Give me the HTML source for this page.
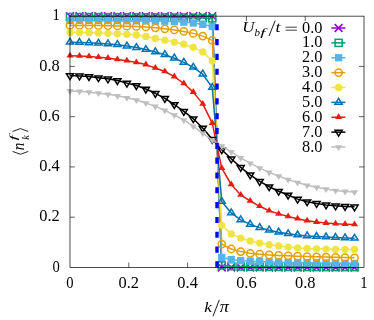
<!DOCTYPE html>
<html><head><meta charset="utf-8"><title>plot</title>
<style>
html,body{margin:0;padding:0;background:#fff;}
body{width:374px;height:320px;overflow:hidden;}
svg{display:block;}
text{font-family:"Liberation Serif",serif;fill:#000;}
svg{will-change:transform;}
.it{font-style:italic;}
</style></head><body>
<svg width="374" height="320" viewBox="0 0 374 320">
<rect width="374" height="320" fill="#fff"/>

<g stroke="#000" stroke-width="0.62" fill="none">
<path d="M128.80 267.45v-4.9M128.80 16.15v4.9M70.0 217.19h4.9M364.0 217.19h-4.9"/>
<path d="M187.60 267.45v-4.9M187.60 16.15v4.9M70.0 166.93h4.9M364.0 166.93h-4.9"/>
<path d="M246.40 267.45v-4.9M246.40 16.15v4.9M70.0 116.67h4.9M364.0 116.67h-4.9"/>
<path d="M305.20 267.45v-4.9M305.20 16.15v4.9M70.0 66.41h4.9M364.0 66.41h-4.9"/>
</g>
<text x="70.00" y="287.9" font-size="15.8" text-anchor="middle" textLength="7.3" lengthAdjust="spacingAndGlyphs">0</text>
<text x="59.8" y="271.65" font-size="15.8" text-anchor="end" textLength="7.3" lengthAdjust="spacingAndGlyphs">0</text>
<text x="128.80" y="287.9" font-size="15.8" text-anchor="middle" textLength="20.5" lengthAdjust="spacingAndGlyphs">0.2</text>
<text x="59.8" y="221.39" font-size="15.8" text-anchor="end" textLength="20.5" lengthAdjust="spacingAndGlyphs">0.2</text>
<text x="187.60" y="287.9" font-size="15.8" text-anchor="middle" textLength="20.5" lengthAdjust="spacingAndGlyphs">0.4</text>
<text x="59.8" y="171.13" font-size="15.8" text-anchor="end" textLength="20.5" lengthAdjust="spacingAndGlyphs">0.4</text>
<text x="246.40" y="287.9" font-size="15.8" text-anchor="middle" textLength="20.5" lengthAdjust="spacingAndGlyphs">0.6</text>
<text x="59.8" y="120.87" font-size="15.8" text-anchor="end" textLength="20.5" lengthAdjust="spacingAndGlyphs">0.6</text>
<text x="305.20" y="287.9" font-size="15.8" text-anchor="middle" textLength="20.5" lengthAdjust="spacingAndGlyphs">0.8</text>
<text x="59.8" y="70.61" font-size="15.8" text-anchor="end" textLength="20.5" lengthAdjust="spacingAndGlyphs">0.8</text>
<text x="364.00" y="287.9" font-size="15.8" text-anchor="middle" textLength="7.3" lengthAdjust="spacingAndGlyphs">1</text>
<text x="59.8" y="20.35" font-size="15.8" text-anchor="end" textLength="7.3" lengthAdjust="spacingAndGlyphs">1</text>
<text x="204.2" y="311.7" font-size="15.2" class="it" textLength="7.6" lengthAdjust="spacingAndGlyphs">k</text>
<path d="M213 316.3L219.3 299.8" stroke="#000" stroke-width="0.9"/>
<text x="219.8" y="311.7" font-size="16.2" class="it" textLength="9.2" lengthAdjust="spacingAndGlyphs">π</text>
<g transform="translate(24,150) rotate(-90)">
<path d="M-1.4 -11.5L-4.3 -3.6L-1.4 4.3M18.5 -11.5L21.4 -3.6L18.5 4.3" stroke="#000" stroke-width="0.85" fill="none"/>
<text x="-0.2" y="0" font-size="15.8" class="it" textLength="7.6" lengthAdjust="spacingAndGlyphs">n</text>
<text x="10.2" y="4.6" font-size="10.4" class="it">k</text>
<text x="9.4" y="-6.8" font-size="11" class="it" textLength="5.2" lengthAdjust="spacingAndGlyphs">f</text>
</g>
<polyline points="70.00,16.15 79.48,16.15 88.97,16.15 98.45,16.15 107.94,16.15 117.42,16.15 126.90,16.15 136.39,16.15 145.87,16.15 155.35,16.15 164.84,16.15 174.32,16.15 183.81,16.15 193.29,16.15 202.77,16.15 212.26,16.15 221.74,267.45 231.23,267.45 240.71,267.45 250.19,267.45 259.68,267.45 269.16,267.45 278.65,267.45 288.13,267.45 297.61,267.45 307.10,267.45 316.58,267.45 326.06,267.45 335.55,267.45 345.03,267.45 354.52,267.45" stroke="#9400d3" stroke-width="1.5" fill="none" stroke-linejoin="round"/>
<path d="M66.10 12.25L73.90 20.05M66.10 20.05L73.90 12.25" stroke="#9400d3" stroke-width="1.5" fill="none"/>
<path d="M75.58 12.25L83.38 20.05M75.58 20.05L83.38 12.25" stroke="#9400d3" stroke-width="1.5" fill="none"/>
<path d="M85.07 12.25L92.87 20.05M85.07 20.05L92.87 12.25" stroke="#9400d3" stroke-width="1.5" fill="none"/>
<path d="M94.55 12.25L102.35 20.05M94.55 20.05L102.35 12.25" stroke="#9400d3" stroke-width="1.5" fill="none"/>
<path d="M104.04 12.25L111.84 20.05M104.04 20.05L111.84 12.25" stroke="#9400d3" stroke-width="1.5" fill="none"/>
<path d="M113.52 12.25L121.32 20.05M113.52 20.05L121.32 12.25" stroke="#9400d3" stroke-width="1.5" fill="none"/>
<path d="M123.00 12.25L130.80 20.05M123.00 20.05L130.80 12.25" stroke="#9400d3" stroke-width="1.5" fill="none"/>
<path d="M132.49 12.25L140.29 20.05M132.49 20.05L140.29 12.25" stroke="#9400d3" stroke-width="1.5" fill="none"/>
<path d="M141.97 12.25L149.77 20.05M141.97 20.05L149.77 12.25" stroke="#9400d3" stroke-width="1.5" fill="none"/>
<path d="M151.45 12.25L159.25 20.05M151.45 20.05L159.25 12.25" stroke="#9400d3" stroke-width="1.5" fill="none"/>
<path d="M160.94 12.25L168.74 20.05M160.94 20.05L168.74 12.25" stroke="#9400d3" stroke-width="1.5" fill="none"/>
<path d="M170.42 12.25L178.22 20.05M170.42 20.05L178.22 12.25" stroke="#9400d3" stroke-width="1.5" fill="none"/>
<path d="M179.91 12.25L187.71 20.05M179.91 20.05L187.71 12.25" stroke="#9400d3" stroke-width="1.5" fill="none"/>
<path d="M189.39 12.25L197.19 20.05M189.39 20.05L197.19 12.25" stroke="#9400d3" stroke-width="1.5" fill="none"/>
<path d="M198.87 12.25L206.67 20.05M198.87 20.05L206.67 12.25" stroke="#9400d3" stroke-width="1.5" fill="none"/>
<path d="M208.36 12.25L216.16 20.05M208.36 20.05L216.16 12.25" stroke="#9400d3" stroke-width="1.5" fill="none"/>
<path d="M217.84 263.55L225.64 271.35M217.84 271.35L225.64 263.55" stroke="#9400d3" stroke-width="1.5" fill="none"/>
<path d="M227.33 263.55L235.13 271.35M227.33 271.35L235.13 263.55" stroke="#9400d3" stroke-width="1.5" fill="none"/>
<path d="M236.81 263.55L244.61 271.35M236.81 271.35L244.61 263.55" stroke="#9400d3" stroke-width="1.5" fill="none"/>
<path d="M246.29 263.55L254.09 271.35M246.29 271.35L254.09 263.55" stroke="#9400d3" stroke-width="1.5" fill="none"/>
<path d="M255.78 263.55L263.58 271.35M255.78 271.35L263.58 263.55" stroke="#9400d3" stroke-width="1.5" fill="none"/>
<path d="M265.26 263.55L273.06 271.35M265.26 271.35L273.06 263.55" stroke="#9400d3" stroke-width="1.5" fill="none"/>
<path d="M274.75 263.55L282.55 271.35M274.75 271.35L282.55 263.55" stroke="#9400d3" stroke-width="1.5" fill="none"/>
<path d="M284.23 263.55L292.03 271.35M284.23 271.35L292.03 263.55" stroke="#9400d3" stroke-width="1.5" fill="none"/>
<path d="M293.71 263.55L301.51 271.35M293.71 271.35L301.51 263.55" stroke="#9400d3" stroke-width="1.5" fill="none"/>
<path d="M303.20 263.55L311.00 271.35M303.20 271.35L311.00 263.55" stroke="#9400d3" stroke-width="1.5" fill="none"/>
<path d="M312.68 263.55L320.48 271.35M312.68 271.35L320.48 263.55" stroke="#9400d3" stroke-width="1.5" fill="none"/>
<path d="M322.16 263.55L329.96 271.35M322.16 271.35L329.96 263.55" stroke="#9400d3" stroke-width="1.5" fill="none"/>
<path d="M331.65 263.55L339.45 271.35M331.65 271.35L339.45 263.55" stroke="#9400d3" stroke-width="1.5" fill="none"/>
<path d="M341.13 263.55L348.93 271.35M341.13 271.35L348.93 263.55" stroke="#9400d3" stroke-width="1.5" fill="none"/>
<path d="M350.62 263.55L358.42 271.35M350.62 271.35L358.42 263.55" stroke="#9400d3" stroke-width="1.5" fill="none"/>
<path d="M331.3 28.00H345.4" stroke="#9400d3" stroke-width="1.5"/>
<path d="M334.70 24.10L342.50 31.90M334.70 31.90L342.50 24.10" stroke="#9400d3" stroke-width="1.5" fill="none"/>
<text x="322.4" y="32.50" font-size="15.8" text-anchor="end" textLength="20.4" lengthAdjust="spacingAndGlyphs">0.0</text>
<polyline points="70.00,17.00 79.48,17.04 88.97,17.07 98.45,17.11 107.94,17.15 117.42,17.19 126.90,17.22 136.39,17.26 145.87,17.30 155.35,17.36 164.84,17.42 174.32,17.50 183.81,17.59 193.29,17.70 202.77,17.90 212.26,18.40 221.74,265.40 231.23,266.20 240.71,266.50 250.19,266.70 259.68,266.80 269.16,266.86 278.65,266.91 288.13,266.95 297.61,266.99 307.10,267.03 316.58,267.05 326.06,267.07 335.55,267.09 345.03,267.10 354.52,267.10" stroke="#009e73" stroke-width="1.5" fill="none" stroke-linejoin="round"/>
<rect x="66.45" y="13.45" width="7.1" height="7.1" stroke="#009e73" stroke-width="1.5" fill="none"/>
<rect x="75.93" y="13.49" width="7.1" height="7.1" stroke="#009e73" stroke-width="1.5" fill="none"/>
<rect x="85.42" y="13.52" width="7.1" height="7.1" stroke="#009e73" stroke-width="1.5" fill="none"/>
<rect x="94.90" y="13.56" width="7.1" height="7.1" stroke="#009e73" stroke-width="1.5" fill="none"/>
<rect x="104.39" y="13.60" width="7.1" height="7.1" stroke="#009e73" stroke-width="1.5" fill="none"/>
<rect x="113.87" y="13.64" width="7.1" height="7.1" stroke="#009e73" stroke-width="1.5" fill="none"/>
<rect x="123.35" y="13.67" width="7.1" height="7.1" stroke="#009e73" stroke-width="1.5" fill="none"/>
<rect x="132.84" y="13.71" width="7.1" height="7.1" stroke="#009e73" stroke-width="1.5" fill="none"/>
<rect x="142.32" y="13.75" width="7.1" height="7.1" stroke="#009e73" stroke-width="1.5" fill="none"/>
<rect x="151.80" y="13.81" width="7.1" height="7.1" stroke="#009e73" stroke-width="1.5" fill="none"/>
<rect x="161.29" y="13.87" width="7.1" height="7.1" stroke="#009e73" stroke-width="1.5" fill="none"/>
<rect x="170.77" y="13.95" width="7.1" height="7.1" stroke="#009e73" stroke-width="1.5" fill="none"/>
<rect x="180.26" y="14.04" width="7.1" height="7.1" stroke="#009e73" stroke-width="1.5" fill="none"/>
<rect x="189.74" y="14.15" width="7.1" height="7.1" stroke="#009e73" stroke-width="1.5" fill="none"/>
<rect x="199.22" y="14.35" width="7.1" height="7.1" stroke="#009e73" stroke-width="1.5" fill="none"/>
<rect x="208.71" y="14.85" width="7.1" height="7.1" stroke="#009e73" stroke-width="1.5" fill="none"/>
<rect x="218.19" y="261.85" width="7.1" height="7.1" stroke="#009e73" stroke-width="1.5" fill="none"/>
<rect x="227.68" y="262.65" width="7.1" height="7.1" stroke="#009e73" stroke-width="1.5" fill="none"/>
<rect x="237.16" y="262.95" width="7.1" height="7.1" stroke="#009e73" stroke-width="1.5" fill="none"/>
<rect x="246.64" y="263.15" width="7.1" height="7.1" stroke="#009e73" stroke-width="1.5" fill="none"/>
<rect x="256.13" y="263.25" width="7.1" height="7.1" stroke="#009e73" stroke-width="1.5" fill="none"/>
<rect x="265.61" y="263.31" width="7.1" height="7.1" stroke="#009e73" stroke-width="1.5" fill="none"/>
<rect x="275.10" y="263.36" width="7.1" height="7.1" stroke="#009e73" stroke-width="1.5" fill="none"/>
<rect x="284.58" y="263.40" width="7.1" height="7.1" stroke="#009e73" stroke-width="1.5" fill="none"/>
<rect x="294.06" y="263.44" width="7.1" height="7.1" stroke="#009e73" stroke-width="1.5" fill="none"/>
<rect x="303.55" y="263.48" width="7.1" height="7.1" stroke="#009e73" stroke-width="1.5" fill="none"/>
<rect x="313.03" y="263.50" width="7.1" height="7.1" stroke="#009e73" stroke-width="1.5" fill="none"/>
<rect x="322.51" y="263.52" width="7.1" height="7.1" stroke="#009e73" stroke-width="1.5" fill="none"/>
<rect x="332.00" y="263.54" width="7.1" height="7.1" stroke="#009e73" stroke-width="1.5" fill="none"/>
<rect x="341.48" y="263.55" width="7.1" height="7.1" stroke="#009e73" stroke-width="1.5" fill="none"/>
<rect x="350.97" y="263.55" width="7.1" height="7.1" stroke="#009e73" stroke-width="1.5" fill="none"/>
<path d="M331.3 42.88H345.4" stroke="#009e73" stroke-width="1.5"/>
<rect x="335.05" y="39.33" width="7.1" height="7.1" stroke="#009e73" stroke-width="1.5" fill="none"/>
<text x="322.4" y="47.38" font-size="15.8" text-anchor="end" textLength="20.4" lengthAdjust="spacingAndGlyphs">1.0</text>
<polyline points="70.00,20.50 79.48,20.51 88.97,20.53 98.45,20.56 107.94,20.61 117.42,20.65 126.90,20.71 136.39,20.78 145.87,20.88 155.35,21.00 164.84,21.20 174.32,21.60 183.81,22.10 193.29,23.00 202.77,24.40 212.26,26.50 221.74,257.50 231.23,259.60 240.71,260.70 250.19,261.20 259.68,261.60 269.16,261.90 278.65,262.17 288.13,262.40 297.61,262.58 307.10,262.75 316.58,262.90 326.06,263.06 335.55,263.21 345.03,263.36 354.52,263.50" stroke="#56b4e9" stroke-width="1.5" fill="none" stroke-linejoin="round"/>
<rect x="66.35" y="16.85" width="7.3" height="7.3" fill="#56b4e9"/>
<rect x="75.83" y="16.86" width="7.3" height="7.3" fill="#56b4e9"/>
<rect x="85.32" y="16.88" width="7.3" height="7.3" fill="#56b4e9"/>
<rect x="94.80" y="16.91" width="7.3" height="7.3" fill="#56b4e9"/>
<rect x="104.29" y="16.96" width="7.3" height="7.3" fill="#56b4e9"/>
<rect x="113.77" y="17.00" width="7.3" height="7.3" fill="#56b4e9"/>
<rect x="123.25" y="17.06" width="7.3" height="7.3" fill="#56b4e9"/>
<rect x="132.74" y="17.13" width="7.3" height="7.3" fill="#56b4e9"/>
<rect x="142.22" y="17.23" width="7.3" height="7.3" fill="#56b4e9"/>
<rect x="151.70" y="17.35" width="7.3" height="7.3" fill="#56b4e9"/>
<rect x="161.19" y="17.55" width="7.3" height="7.3" fill="#56b4e9"/>
<rect x="170.67" y="17.95" width="7.3" height="7.3" fill="#56b4e9"/>
<rect x="180.16" y="18.45" width="7.3" height="7.3" fill="#56b4e9"/>
<rect x="189.64" y="19.35" width="7.3" height="7.3" fill="#56b4e9"/>
<rect x="199.12" y="20.75" width="7.3" height="7.3" fill="#56b4e9"/>
<rect x="208.61" y="22.85" width="7.3" height="7.3" fill="#56b4e9"/>
<rect x="218.09" y="253.85" width="7.3" height="7.3" fill="#56b4e9"/>
<rect x="227.58" y="255.95" width="7.3" height="7.3" fill="#56b4e9"/>
<rect x="237.06" y="257.05" width="7.3" height="7.3" fill="#56b4e9"/>
<rect x="246.54" y="257.55" width="7.3" height="7.3" fill="#56b4e9"/>
<rect x="256.03" y="257.95" width="7.3" height="7.3" fill="#56b4e9"/>
<rect x="265.51" y="258.25" width="7.3" height="7.3" fill="#56b4e9"/>
<rect x="275.00" y="258.52" width="7.3" height="7.3" fill="#56b4e9"/>
<rect x="284.48" y="258.75" width="7.3" height="7.3" fill="#56b4e9"/>
<rect x="293.96" y="258.93" width="7.3" height="7.3" fill="#56b4e9"/>
<rect x="303.45" y="259.10" width="7.3" height="7.3" fill="#56b4e9"/>
<rect x="312.93" y="259.25" width="7.3" height="7.3" fill="#56b4e9"/>
<rect x="322.41" y="259.41" width="7.3" height="7.3" fill="#56b4e9"/>
<rect x="331.90" y="259.56" width="7.3" height="7.3" fill="#56b4e9"/>
<rect x="341.38" y="259.71" width="7.3" height="7.3" fill="#56b4e9"/>
<rect x="350.87" y="259.85" width="7.3" height="7.3" fill="#56b4e9"/>
<path d="M331.3 57.75H345.4" stroke="#56b4e9" stroke-width="1.5"/>
<rect x="334.95" y="54.10" width="7.3" height="7.3" fill="#56b4e9"/>
<text x="322.4" y="62.25" font-size="15.8" text-anchor="end" textLength="20.4" lengthAdjust="spacingAndGlyphs">2.0</text>
<polyline points="70.00,25.40 79.48,25.42 88.97,25.49 98.45,25.60 107.94,25.74 117.42,25.93 126.90,26.15 136.39,26.40 145.87,26.92 155.35,27.79 164.84,28.80 174.32,29.93 183.81,31.40 193.29,33.38 202.77,36.10 212.26,40.40 221.74,244.10 231.23,249.00 240.71,251.60 250.19,253.30 259.68,254.20 269.16,254.90 278.65,255.40 288.13,255.80 297.61,256.20 307.10,256.53 316.58,256.83 326.06,257.10 335.55,257.35 345.03,257.59 354.52,257.80" stroke="#e69f00" stroke-width="1.5" fill="none" stroke-linejoin="round"/>
<circle cx="70.00" cy="25.40" r="3.65" stroke="#e69f00" stroke-width="1.5" fill="none"/>
<circle cx="79.48" cy="25.42" r="3.65" stroke="#e69f00" stroke-width="1.5" fill="none"/>
<circle cx="88.97" cy="25.49" r="3.65" stroke="#e69f00" stroke-width="1.5" fill="none"/>
<circle cx="98.45" cy="25.60" r="3.65" stroke="#e69f00" stroke-width="1.5" fill="none"/>
<circle cx="107.94" cy="25.74" r="3.65" stroke="#e69f00" stroke-width="1.5" fill="none"/>
<circle cx="117.42" cy="25.93" r="3.65" stroke="#e69f00" stroke-width="1.5" fill="none"/>
<circle cx="126.90" cy="26.15" r="3.65" stroke="#e69f00" stroke-width="1.5" fill="none"/>
<circle cx="136.39" cy="26.40" r="3.65" stroke="#e69f00" stroke-width="1.5" fill="none"/>
<circle cx="145.87" cy="26.92" r="3.65" stroke="#e69f00" stroke-width="1.5" fill="none"/>
<circle cx="155.35" cy="27.79" r="3.65" stroke="#e69f00" stroke-width="1.5" fill="none"/>
<circle cx="164.84" cy="28.80" r="3.65" stroke="#e69f00" stroke-width="1.5" fill="none"/>
<circle cx="174.32" cy="29.93" r="3.65" stroke="#e69f00" stroke-width="1.5" fill="none"/>
<circle cx="183.81" cy="31.40" r="3.65" stroke="#e69f00" stroke-width="1.5" fill="none"/>
<circle cx="193.29" cy="33.38" r="3.65" stroke="#e69f00" stroke-width="1.5" fill="none"/>
<circle cx="202.77" cy="36.10" r="3.65" stroke="#e69f00" stroke-width="1.5" fill="none"/>
<circle cx="212.26" cy="40.40" r="3.65" stroke="#e69f00" stroke-width="1.5" fill="none"/>
<circle cx="221.74" cy="244.10" r="3.65" stroke="#e69f00" stroke-width="1.5" fill="none"/>
<circle cx="231.23" cy="249.00" r="3.65" stroke="#e69f00" stroke-width="1.5" fill="none"/>
<circle cx="240.71" cy="251.60" r="3.65" stroke="#e69f00" stroke-width="1.5" fill="none"/>
<circle cx="250.19" cy="253.30" r="3.65" stroke="#e69f00" stroke-width="1.5" fill="none"/>
<circle cx="259.68" cy="254.20" r="3.65" stroke="#e69f00" stroke-width="1.5" fill="none"/>
<circle cx="269.16" cy="254.90" r="3.65" stroke="#e69f00" stroke-width="1.5" fill="none"/>
<circle cx="278.65" cy="255.40" r="3.65" stroke="#e69f00" stroke-width="1.5" fill="none"/>
<circle cx="288.13" cy="255.80" r="3.65" stroke="#e69f00" stroke-width="1.5" fill="none"/>
<circle cx="297.61" cy="256.20" r="3.65" stroke="#e69f00" stroke-width="1.5" fill="none"/>
<circle cx="307.10" cy="256.53" r="3.65" stroke="#e69f00" stroke-width="1.5" fill="none"/>
<circle cx="316.58" cy="256.83" r="3.65" stroke="#e69f00" stroke-width="1.5" fill="none"/>
<circle cx="326.06" cy="257.10" r="3.65" stroke="#e69f00" stroke-width="1.5" fill="none"/>
<circle cx="335.55" cy="257.35" r="3.65" stroke="#e69f00" stroke-width="1.5" fill="none"/>
<circle cx="345.03" cy="257.59" r="3.65" stroke="#e69f00" stroke-width="1.5" fill="none"/>
<circle cx="354.52" cy="257.80" r="3.65" stroke="#e69f00" stroke-width="1.5" fill="none"/>
<path d="M331.3 72.62H345.4" stroke="#e69f00" stroke-width="1.5"/>
<circle cx="338.60" cy="72.62" r="3.65" stroke="#e69f00" stroke-width="1.5" fill="none"/>
<text x="322.4" y="77.12" font-size="15.8" text-anchor="end" textLength="20.4" lengthAdjust="spacingAndGlyphs">3.0</text>
<polyline points="70.00,32.50 79.48,32.56 88.97,32.72 98.45,32.99 107.94,33.36 117.42,33.82 126.90,34.37 136.39,35.00 145.87,36.43 155.35,38.40 164.84,40.20 174.32,42.05 183.81,44.20 193.29,47.30 202.77,51.90 212.26,61.00 221.74,225.30 231.23,233.90 240.71,238.10 250.19,241.00 259.68,243.10 269.16,244.70 278.65,246.00 288.13,247.10 297.61,248.00 307.10,248.49 316.58,248.85 326.06,249.10 335.55,249.29 345.03,249.43 354.52,249.50" stroke="#f0e442" stroke-width="1.5" fill="none" stroke-linejoin="round"/>
<circle cx="70.00" cy="32.50" r="3.65" fill="#f0e442"/>
<circle cx="79.48" cy="32.56" r="3.65" fill="#f0e442"/>
<circle cx="88.97" cy="32.72" r="3.65" fill="#f0e442"/>
<circle cx="98.45" cy="32.99" r="3.65" fill="#f0e442"/>
<circle cx="107.94" cy="33.36" r="3.65" fill="#f0e442"/>
<circle cx="117.42" cy="33.82" r="3.65" fill="#f0e442"/>
<circle cx="126.90" cy="34.37" r="3.65" fill="#f0e442"/>
<circle cx="136.39" cy="35.00" r="3.65" fill="#f0e442"/>
<circle cx="145.87" cy="36.43" r="3.65" fill="#f0e442"/>
<circle cx="155.35" cy="38.40" r="3.65" fill="#f0e442"/>
<circle cx="164.84" cy="40.20" r="3.65" fill="#f0e442"/>
<circle cx="174.32" cy="42.05" r="3.65" fill="#f0e442"/>
<circle cx="183.81" cy="44.20" r="3.65" fill="#f0e442"/>
<circle cx="193.29" cy="47.30" r="3.65" fill="#f0e442"/>
<circle cx="202.77" cy="51.90" r="3.65" fill="#f0e442"/>
<circle cx="212.26" cy="61.00" r="3.65" fill="#f0e442"/>
<circle cx="221.74" cy="225.30" r="3.65" fill="#f0e442"/>
<circle cx="231.23" cy="233.90" r="3.65" fill="#f0e442"/>
<circle cx="240.71" cy="238.10" r="3.65" fill="#f0e442"/>
<circle cx="250.19" cy="241.00" r="3.65" fill="#f0e442"/>
<circle cx="259.68" cy="243.10" r="3.65" fill="#f0e442"/>
<circle cx="269.16" cy="244.70" r="3.65" fill="#f0e442"/>
<circle cx="278.65" cy="246.00" r="3.65" fill="#f0e442"/>
<circle cx="288.13" cy="247.10" r="3.65" fill="#f0e442"/>
<circle cx="297.61" cy="248.00" r="3.65" fill="#f0e442"/>
<circle cx="307.10" cy="248.49" r="3.65" fill="#f0e442"/>
<circle cx="316.58" cy="248.85" r="3.65" fill="#f0e442"/>
<circle cx="326.06" cy="249.10" r="3.65" fill="#f0e442"/>
<circle cx="335.55" cy="249.29" r="3.65" fill="#f0e442"/>
<circle cx="345.03" cy="249.43" r="3.65" fill="#f0e442"/>
<circle cx="354.52" cy="249.50" r="3.65" fill="#f0e442"/>
<path d="M331.3 87.50H345.4" stroke="#f0e442" stroke-width="1.5"/>
<circle cx="338.60" cy="87.50" r="3.65" fill="#f0e442"/>
<text x="322.4" y="92.00" font-size="15.8" text-anchor="end" textLength="20.4" lengthAdjust="spacingAndGlyphs">4.0</text>
<polyline points="70.00,42.30 79.48,42.52 88.97,42.87 98.45,43.30 107.94,43.90 117.42,44.70 126.90,46.10 136.39,47.60 145.87,49.57 155.35,51.93 164.84,54.70 174.32,58.20 183.81,62.40 193.29,67.30 202.77,74.20 212.26,87.50 221.74,201.50 231.23,212.90 240.71,219.90 250.19,224.40 259.68,227.60 269.16,230.20 278.65,232.20 288.13,233.80 297.61,235.00 307.10,235.90 316.58,236.50 326.06,237.00 335.55,237.50 345.03,237.90 354.52,238.30" stroke="#0072b2" stroke-width="1.5" fill="none" stroke-linejoin="round"/>
<path d="M70.00 38.32L73.55 44.07H66.45Z" stroke="#0072b2" stroke-width="1.5" fill="none"/>
<path d="M79.48 38.54L83.03 44.29H75.93Z" stroke="#0072b2" stroke-width="1.5" fill="none"/>
<path d="M88.97 38.89L92.52 44.65H85.42Z" stroke="#0072b2" stroke-width="1.5" fill="none"/>
<path d="M98.45 39.32L102.00 45.07H94.90Z" stroke="#0072b2" stroke-width="1.5" fill="none"/>
<path d="M107.94 39.92L111.49 45.67H104.39Z" stroke="#0072b2" stroke-width="1.5" fill="none"/>
<path d="M117.42 40.72L120.97 46.48H113.87Z" stroke="#0072b2" stroke-width="1.5" fill="none"/>
<path d="M126.90 42.12L130.45 47.88H123.35Z" stroke="#0072b2" stroke-width="1.5" fill="none"/>
<path d="M136.39 43.62L139.94 49.38H132.84Z" stroke="#0072b2" stroke-width="1.5" fill="none"/>
<path d="M145.87 45.59L149.42 51.34H142.32Z" stroke="#0072b2" stroke-width="1.5" fill="none"/>
<path d="M155.35 47.95L158.90 53.70H151.80Z" stroke="#0072b2" stroke-width="1.5" fill="none"/>
<path d="M164.84 50.72L168.39 56.48H161.29Z" stroke="#0072b2" stroke-width="1.5" fill="none"/>
<path d="M174.32 54.23L177.87 59.98H170.77Z" stroke="#0072b2" stroke-width="1.5" fill="none"/>
<path d="M183.81 58.42L187.36 64.17H180.26Z" stroke="#0072b2" stroke-width="1.5" fill="none"/>
<path d="M193.29 63.32L196.84 69.08H189.74Z" stroke="#0072b2" stroke-width="1.5" fill="none"/>
<path d="M202.77 70.22L206.32 75.98H199.22Z" stroke="#0072b2" stroke-width="1.5" fill="none"/>
<path d="M212.26 83.52L215.81 89.28H208.71Z" stroke="#0072b2" stroke-width="1.5" fill="none"/>
<path d="M221.74 197.52L225.29 203.28H218.19Z" stroke="#0072b2" stroke-width="1.5" fill="none"/>
<path d="M231.23 208.92L234.78 214.68H227.68Z" stroke="#0072b2" stroke-width="1.5" fill="none"/>
<path d="M240.71 215.92L244.26 221.68H237.16Z" stroke="#0072b2" stroke-width="1.5" fill="none"/>
<path d="M250.19 220.42L253.74 226.18H246.64Z" stroke="#0072b2" stroke-width="1.5" fill="none"/>
<path d="M259.68 223.62L263.23 229.38H256.13Z" stroke="#0072b2" stroke-width="1.5" fill="none"/>
<path d="M269.16 226.22L272.71 231.97H265.61Z" stroke="#0072b2" stroke-width="1.5" fill="none"/>
<path d="M278.65 228.22L282.20 233.97H275.10Z" stroke="#0072b2" stroke-width="1.5" fill="none"/>
<path d="M288.13 229.82L291.68 235.58H284.58Z" stroke="#0072b2" stroke-width="1.5" fill="none"/>
<path d="M297.61 231.02L301.16 236.78H294.06Z" stroke="#0072b2" stroke-width="1.5" fill="none"/>
<path d="M307.10 231.92L310.65 237.68H303.55Z" stroke="#0072b2" stroke-width="1.5" fill="none"/>
<path d="M316.58 232.52L320.13 238.28H313.03Z" stroke="#0072b2" stroke-width="1.5" fill="none"/>
<path d="M326.06 233.02L329.61 238.78H322.51Z" stroke="#0072b2" stroke-width="1.5" fill="none"/>
<path d="M335.55 233.52L339.10 239.28H332.00Z" stroke="#0072b2" stroke-width="1.5" fill="none"/>
<path d="M345.03 233.92L348.58 239.68H341.48Z" stroke="#0072b2" stroke-width="1.5" fill="none"/>
<path d="M354.52 234.32L358.07 240.08H350.97Z" stroke="#0072b2" stroke-width="1.5" fill="none"/>
<path d="M331.3 102.38H345.4" stroke="#0072b2" stroke-width="1.5"/>
<path d="M338.60 98.40L342.15 104.15H335.05Z" stroke="#0072b2" stroke-width="1.5" fill="none"/>
<text x="322.4" y="106.88" font-size="15.8" text-anchor="end" textLength="20.4" lengthAdjust="spacingAndGlyphs">5.0</text>
<polyline points="70.00,55.80 79.48,56.00 88.97,56.52 98.45,57.25 107.94,58.10 117.42,59.40 126.90,60.85 136.39,62.50 145.87,64.60 155.35,68.00 164.84,71.50 174.32,76.60 183.81,83.50 193.29,92.10 202.77,103.90 212.26,123.10 221.74,168.10 231.23,184.50 240.71,194.90 250.19,201.00 259.68,206.30 269.16,210.80 278.65,213.90 288.13,216.50 297.61,218.70 307.10,220.70 316.58,222.10 326.06,223.10 335.55,223.80 345.03,224.20 354.52,224.40" stroke="#e51e10" stroke-width="1.5" fill="none" stroke-linejoin="round"/>
<path d="M70.00 51.82L73.55 57.57H66.45Z" fill="#e51e10"/>
<path d="M79.48 52.02L83.03 57.77H75.93Z" fill="#e51e10"/>
<path d="M88.97 52.54L92.52 58.29H85.42Z" fill="#e51e10"/>
<path d="M98.45 53.28L102.00 59.03H94.90Z" fill="#e51e10"/>
<path d="M107.94 54.12L111.49 59.88H104.39Z" fill="#e51e10"/>
<path d="M117.42 55.42L120.97 61.17H113.87Z" fill="#e51e10"/>
<path d="M126.90 56.87L130.45 62.62H123.35Z" fill="#e51e10"/>
<path d="M136.39 58.52L139.94 64.28H132.84Z" fill="#e51e10"/>
<path d="M145.87 60.62L149.42 66.38H142.32Z" fill="#e51e10"/>
<path d="M155.35 64.02L158.90 69.78H151.80Z" fill="#e51e10"/>
<path d="M164.84 67.52L168.39 73.28H161.29Z" fill="#e51e10"/>
<path d="M174.32 72.62L177.87 78.38H170.77Z" fill="#e51e10"/>
<path d="M183.81 79.52L187.36 85.28H180.26Z" fill="#e51e10"/>
<path d="M193.29 88.12L196.84 93.88H189.74Z" fill="#e51e10"/>
<path d="M202.77 99.92L206.32 105.68H199.22Z" fill="#e51e10"/>
<path d="M212.26 119.12L215.81 124.88H208.71Z" fill="#e51e10"/>
<path d="M221.74 164.12L225.29 169.88H218.19Z" fill="#e51e10"/>
<path d="M231.23 180.52L234.78 186.28H227.68Z" fill="#e51e10"/>
<path d="M240.71 190.92L244.26 196.68H237.16Z" fill="#e51e10"/>
<path d="M250.19 197.02L253.74 202.78H246.64Z" fill="#e51e10"/>
<path d="M259.68 202.32L263.23 208.08H256.13Z" fill="#e51e10"/>
<path d="M269.16 206.82L272.71 212.58H265.61Z" fill="#e51e10"/>
<path d="M278.65 209.92L282.20 215.68H275.10Z" fill="#e51e10"/>
<path d="M288.13 212.52L291.68 218.28H284.58Z" fill="#e51e10"/>
<path d="M297.61 214.72L301.16 220.47H294.06Z" fill="#e51e10"/>
<path d="M307.10 216.72L310.65 222.47H303.55Z" fill="#e51e10"/>
<path d="M316.58 218.12L320.13 223.88H313.03Z" fill="#e51e10"/>
<path d="M326.06 219.12L329.61 224.88H322.51Z" fill="#e51e10"/>
<path d="M335.55 219.82L339.10 225.58H332.00Z" fill="#e51e10"/>
<path d="M345.03 220.22L348.58 225.97H341.48Z" fill="#e51e10"/>
<path d="M354.52 220.42L358.07 226.18H350.97Z" fill="#e51e10"/>
<path d="M331.3 117.25H345.4" stroke="#e51e10" stroke-width="1.5"/>
<path d="M338.60 113.27L342.15 119.03H335.05Z" fill="#e51e10"/>
<text x="322.4" y="121.75" font-size="15.8" text-anchor="end" textLength="20.4" lengthAdjust="spacingAndGlyphs">6.0</text>
<polyline points="70.00,75.60 79.48,75.90 88.97,76.50 98.45,77.70 107.94,78.80 117.42,80.50 126.90,83.10 136.39,85.50 145.87,89.00 155.35,93.30 164.84,98.30 174.32,104.50 183.81,111.30 193.29,118.70 202.77,128.00 212.26,139.30 221.74,149.70 231.23,158.80 240.71,167.40 250.19,174.90 259.68,181.30 269.16,186.70 278.65,191.20 288.13,195.00 297.61,199.10 307.10,201.70 316.58,203.40 326.06,204.90 335.55,205.80 345.03,206.40 354.52,206.80" stroke="#000000" stroke-width="1.5" fill="none" stroke-linejoin="round"/>
<path d="M70.00 79.58L73.55 73.82H66.45Z" stroke="#000000" stroke-width="1.5" fill="none"/>
<path d="M79.48 79.88L83.03 74.12H75.93Z" stroke="#000000" stroke-width="1.5" fill="none"/>
<path d="M88.97 80.48L92.52 74.72H85.42Z" stroke="#000000" stroke-width="1.5" fill="none"/>
<path d="M98.45 81.68L102.00 75.92H94.90Z" stroke="#000000" stroke-width="1.5" fill="none"/>
<path d="M107.94 82.78L111.49 77.02H104.39Z" stroke="#000000" stroke-width="1.5" fill="none"/>
<path d="M117.42 84.48L120.97 78.72H113.87Z" stroke="#000000" stroke-width="1.5" fill="none"/>
<path d="M126.90 87.08L130.45 81.32H123.35Z" stroke="#000000" stroke-width="1.5" fill="none"/>
<path d="M136.39 89.48L139.94 83.72H132.84Z" stroke="#000000" stroke-width="1.5" fill="none"/>
<path d="M145.87 92.98L149.42 87.22H142.32Z" stroke="#000000" stroke-width="1.5" fill="none"/>
<path d="M155.35 97.28L158.90 91.52H151.80Z" stroke="#000000" stroke-width="1.5" fill="none"/>
<path d="M164.84 102.28L168.39 96.52H161.29Z" stroke="#000000" stroke-width="1.5" fill="none"/>
<path d="M174.32 108.48L177.87 102.72H170.77Z" stroke="#000000" stroke-width="1.5" fill="none"/>
<path d="M183.81 115.28L187.36 109.52H180.26Z" stroke="#000000" stroke-width="1.5" fill="none"/>
<path d="M193.29 122.68L196.84 116.92H189.74Z" stroke="#000000" stroke-width="1.5" fill="none"/>
<path d="M202.77 131.98L206.32 126.22H199.22Z" stroke="#000000" stroke-width="1.5" fill="none"/>
<path d="M212.26 143.28L215.81 137.53H208.71Z" stroke="#000000" stroke-width="1.5" fill="none"/>
<path d="M221.74 153.68L225.29 147.92H218.19Z" stroke="#000000" stroke-width="1.5" fill="none"/>
<path d="M231.23 162.78L234.78 157.03H227.68Z" stroke="#000000" stroke-width="1.5" fill="none"/>
<path d="M240.71 171.38L244.26 165.62H237.16Z" stroke="#000000" stroke-width="1.5" fill="none"/>
<path d="M250.19 178.88L253.74 173.12H246.64Z" stroke="#000000" stroke-width="1.5" fill="none"/>
<path d="M259.68 185.28L263.23 179.53H256.13Z" stroke="#000000" stroke-width="1.5" fill="none"/>
<path d="M269.16 190.68L272.71 184.92H265.61Z" stroke="#000000" stroke-width="1.5" fill="none"/>
<path d="M278.65 195.18L282.20 189.42H275.10Z" stroke="#000000" stroke-width="1.5" fill="none"/>
<path d="M288.13 198.98L291.68 193.22H284.58Z" stroke="#000000" stroke-width="1.5" fill="none"/>
<path d="M297.61 203.08L301.16 197.32H294.06Z" stroke="#000000" stroke-width="1.5" fill="none"/>
<path d="M307.10 205.68L310.65 199.92H303.55Z" stroke="#000000" stroke-width="1.5" fill="none"/>
<path d="M316.58 207.38L320.13 201.62H313.03Z" stroke="#000000" stroke-width="1.5" fill="none"/>
<path d="M326.06 208.88L329.61 203.12H322.51Z" stroke="#000000" stroke-width="1.5" fill="none"/>
<path d="M335.55 209.78L339.10 204.03H332.00Z" stroke="#000000" stroke-width="1.5" fill="none"/>
<path d="M345.03 210.38L348.58 204.62H341.48Z" stroke="#000000" stroke-width="1.5" fill="none"/>
<path d="M354.52 210.78L358.07 205.02H350.97Z" stroke="#000000" stroke-width="1.5" fill="none"/>
<path d="M331.3 132.12H345.4" stroke="#000000" stroke-width="1.5"/>
<path d="M338.60 136.10L342.15 130.35H335.05Z" stroke="#000000" stroke-width="1.5" fill="none"/>
<text x="322.4" y="136.62" font-size="15.8" text-anchor="end" textLength="20.4" lengthAdjust="spacingAndGlyphs">7.0</text>
<polyline points="70.00,90.90 79.48,91.35 88.97,92.13 98.45,93.14 107.94,94.30 117.42,95.77 126.90,97.71 136.39,100.00 145.87,103.00 155.35,106.40 164.84,110.30 174.32,115.00 183.81,120.10 193.29,126.20 202.77,133.30 212.26,140.00 221.74,146.00 231.23,151.80 240.71,157.80 250.19,163.20 259.68,168.10 269.16,172.40 278.65,176.00 288.13,179.60 297.61,182.50 307.10,185.20 316.58,187.20 326.06,189.10 335.55,190.60 345.03,191.40 354.52,192.10" stroke="#bebebe" stroke-width="1.5" fill="none" stroke-linejoin="round"/>
<path d="M70.00 94.88L73.55 89.12H66.45Z" fill="#bebebe"/>
<path d="M79.48 95.32L83.03 89.57H75.93Z" fill="#bebebe"/>
<path d="M88.97 96.10L92.52 90.35H85.42Z" fill="#bebebe"/>
<path d="M98.45 97.12L102.00 91.37H94.90Z" fill="#bebebe"/>
<path d="M107.94 98.28L111.49 92.52H104.39Z" fill="#bebebe"/>
<path d="M117.42 99.75L120.97 94.00H113.87Z" fill="#bebebe"/>
<path d="M126.90 101.69L130.45 95.94H123.35Z" fill="#bebebe"/>
<path d="M136.39 103.98L139.94 98.22H132.84Z" fill="#bebebe"/>
<path d="M145.87 106.98L149.42 101.22H142.32Z" fill="#bebebe"/>
<path d="M155.35 110.38L158.90 104.62H151.80Z" fill="#bebebe"/>
<path d="M164.84 114.28L168.39 108.52H161.29Z" fill="#bebebe"/>
<path d="M174.32 118.98L177.87 113.22H170.77Z" fill="#bebebe"/>
<path d="M183.81 124.08L187.36 118.32H180.26Z" fill="#bebebe"/>
<path d="M193.29 130.18L196.84 124.42H189.74Z" fill="#bebebe"/>
<path d="M202.77 137.28L206.32 131.53H199.22Z" fill="#bebebe"/>
<path d="M212.26 143.98L215.81 138.22H208.71Z" fill="#bebebe"/>
<path d="M221.74 149.98L225.29 144.22H218.19Z" fill="#bebebe"/>
<path d="M231.23 155.78L234.78 150.03H227.68Z" fill="#bebebe"/>
<path d="M240.71 161.78L244.26 156.03H237.16Z" fill="#bebebe"/>
<path d="M250.19 167.18L253.74 161.42H246.64Z" fill="#bebebe"/>
<path d="M259.68 172.08L263.23 166.32H256.13Z" fill="#bebebe"/>
<path d="M269.16 176.38L272.71 170.62H265.61Z" fill="#bebebe"/>
<path d="M278.65 179.98L282.20 174.22H275.10Z" fill="#bebebe"/>
<path d="M288.13 183.58L291.68 177.82H284.58Z" fill="#bebebe"/>
<path d="M297.61 186.48L301.16 180.72H294.06Z" fill="#bebebe"/>
<path d="M307.10 189.18L310.65 183.42H303.55Z" fill="#bebebe"/>
<path d="M316.58 191.18L320.13 185.42H313.03Z" fill="#bebebe"/>
<path d="M326.06 193.08L329.61 187.32H322.51Z" fill="#bebebe"/>
<path d="M335.55 194.58L339.10 188.82H332.00Z" fill="#bebebe"/>
<path d="M345.03 195.38L348.58 189.62H341.48Z" fill="#bebebe"/>
<path d="M354.52 196.08L358.07 190.32H350.97Z" fill="#bebebe"/>
<path d="M331.3 147.00H345.4" stroke="#bebebe" stroke-width="1.5"/>
<path d="M338.60 150.98L342.15 145.22H335.05Z" fill="#bebebe"/>
<text x="322.4" y="151.50" font-size="15.8" text-anchor="end" textLength="20.4" lengthAdjust="spacingAndGlyphs">8.0</text>
<text x="242.3" y="32.4" font-size="15.6" class="it" textLength="12.2" lengthAdjust="spacingAndGlyphs">U</text>
<text x="254.6" y="35.6" font-size="11" class="it">b</text>
<text x="260.2" y="35.6" font-size="11" class="it" textLength="5.2" lengthAdjust="spacingAndGlyphs">f</text>
<path d="M269 36L275.2 20.6" stroke="#000" stroke-width="0.9"/>
<text x="275.6" y="32.4" font-size="15.6" class="it" textLength="5" lengthAdjust="spacingAndGlyphs">t</text>
<path d="M285.6 27.2H296.9M285.6 30.2H296.9" stroke="#000" stroke-width="0.75"/>
<path d="M217.00 267.45V16.15" stroke="#0000ff" stroke-width="3.4" fill="none" stroke-dasharray="6.1 8.72"/>
<rect x="70.0" y="16.15" width="294.0" height="251.30" stroke="#000" stroke-width="0.7" fill="none"/>
</svg></body></html>
